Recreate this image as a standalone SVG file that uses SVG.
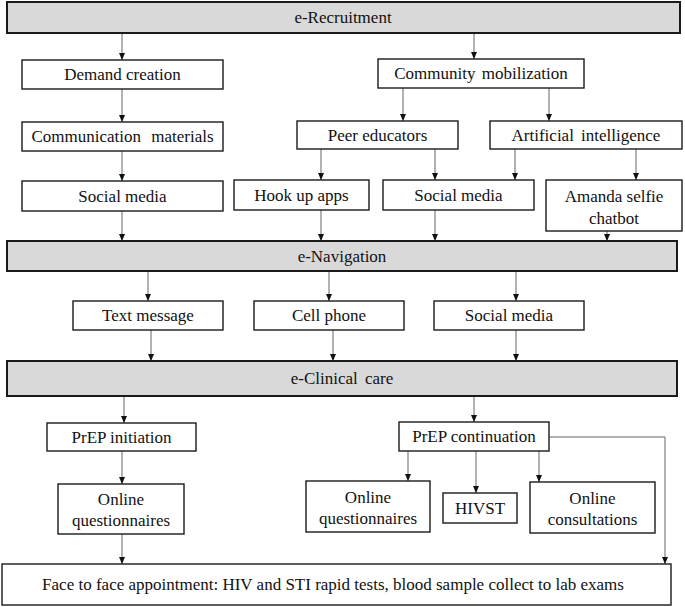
<svg xmlns="http://www.w3.org/2000/svg" width="685" height="607" viewBox="0 0 685 607">
<style>
.bar{fill:#d9d9d9;stroke:#1a1a1a;stroke-width:2}
.box{fill:#fff;stroke:#1a1a1a;stroke-width:1.4}
text{font-family:'Liberation Serif',serif;font-size:17px;fill:#111;text-anchor:middle}
.c{fill:none;stroke:#666;stroke-width:1;marker-end:url(#ah)}
</style>
<defs>
<marker id="ah" markerUnits="userSpaceOnUse" markerWidth="7" markerHeight="7" refX="7" refY="3" orient="auto">
<path d="M0,0 L7,3 L0,6 z" fill="#111"/>
</marker>
</defs>
<rect width="685" height="607" fill="#fff"/>
<g id="connectors">
<line class="c" x1="122" y1="33" x2="122" y2="60"/>
<line class="c" x1="474" y1="33" x2="474" y2="59"/>
<line class="c" x1="122" y1="89" x2="122" y2="122"/>
<line class="c" x1="403" y1="88" x2="403" y2="121"/>
<line class="c" x1="549" y1="88" x2="549" y2="121"/>
<line class="c" x1="122" y1="151" x2="122" y2="181"/>
<line class="c" x1="321" y1="149" x2="321" y2="180"/>
<line class="c" x1="435" y1="149" x2="435" y2="180"/>
<line class="c" x1="515" y1="149" x2="515" y2="180"/>
<line class="c" x1="636" y1="149" x2="636" y2="180"/>
<line class="c" x1="122" y1="211" x2="122" y2="241"/>
<line class="c" x1="321" y1="210" x2="321" y2="241"/>
<line class="c" x1="435" y1="210" x2="435" y2="241"/>
<line class="c" x1="607" y1="231" x2="607" y2="241"/>
<line class="c" x1="148" y1="271" x2="148" y2="301"/>
<line class="c" x1="329" y1="271" x2="329" y2="301"/>
<line class="c" x1="516" y1="271" x2="516" y2="301"/>
<line class="c" x1="151" y1="330" x2="151" y2="361"/>
<line class="c" x1="333" y1="330" x2="333" y2="361"/>
<line class="c" x1="516" y1="330" x2="516" y2="361"/>
<line class="c" x1="124" y1="396" x2="124" y2="423"/>
<line class="c" x1="474" y1="396" x2="474" y2="422"/>
<line class="c" x1="122" y1="451" x2="122" y2="484"/>
<line class="c" x1="408" y1="451" x2="408" y2="481"/>
<line class="c" x1="476" y1="451" x2="476" y2="493"/>
<line class="c" x1="539" y1="451" x2="539" y2="482"/>
<line class="c" x1="122" y1="534" x2="122" y2="564"/>
<polyline class="c" points="549,437 665,437 665,564"/>
</g>
<g id="e-recruitment"><rect class="bar" x="7" y="2" width="673" height="31"/><text x="343" y="23">e-Recruitment</text></g>
<g id="demand-creation"><rect class="box" x="22" y="60" width="201" height="29"/><text x="122.5" y="80">Demand creation</text></g>
<g id="community-mobilization"><rect class="box" x="378" y="59" width="206" height="29"/><text x="481" y="79" word-spacing="2">Community mobilization</text></g>
<g id="communication-materials"><rect class="box" x="22" y="122" width="201" height="29"/><text x="122.5" y="142" word-spacing="6">Communication materials</text></g>
<g id="peer-educators"><rect class="box" x="297" y="121" width="161" height="28"/><text x="377.5" y="141">Peer educators</text></g>
<g id="artificial-intelligence"><rect class="box" x="490" y="121" width="192" height="28"/><text x="586" y="141" word-spacing="3">Artificial intelligence</text></g>
<g id="social-media-1"><rect class="box" x="22" y="181" width="201" height="30"/><text x="122.5" y="202">Social media</text></g>
<g id="hook-up-apps"><rect class="box" x="234" y="180" width="135" height="30"/><text x="301.5" y="201">Hook up apps</text></g>
<g id="social-media-2"><rect class="box" x="383" y="180" width="151" height="30"/><text x="458.5" y="201">Social media</text></g>
<g id="amanda"><rect class="box" x="546" y="180" width="136" height="51"/><text x="614" y="202">Amanda selfie</text><text x="614" y="224">chatbot</text></g>
<g id="e-navigation"><rect class="bar" x="7" y="241" width="670" height="30"/><text x="342" y="262">e-Navigation</text></g>
<g id="text-message"><rect class="box" x="73" y="301" width="150" height="29"/><text x="148" y="321">Text message</text></g>
<g id="cell-phone"><rect class="box" x="254" y="301" width="150" height="29"/><text x="329" y="321">Cell phone</text></g>
<g id="social-media-3"><rect class="box" x="434" y="301" width="150" height="29"/><text x="509" y="321">Social media</text></g>
<g id="e-clinical-care"><rect class="bar" x="7" y="361" width="670" height="35"/><text x="342" y="384" word-spacing="3">e-Clinical care</text></g>
<g id="prep-initiation"><rect class="box" x="47" y="423" width="149" height="28"/><text x="121.5" y="443">PrEP initiation</text></g>
<g id="prep-continuation"><rect class="box" x="399" y="422" width="150" height="29"/><text x="474" y="442">PrEP continuation</text></g>
<g id="online-questionnaires-1"><rect class="box" x="58" y="484" width="126" height="50"/><text x="121" y="505">Online</text><text x="121" y="526">questionnaires</text></g>
<g id="online-questionnaires-2"><rect class="box" x="306" y="481" width="124" height="51"/><text x="368" y="503">Online</text><text x="368" y="524">questionnaires</text></g>
<g id="hivst"><rect class="box" x="443" y="493" width="74" height="30"/><text x="480" y="514">HIVST</text></g>
<g id="online-consultations"><rect class="box" x="530" y="482" width="125" height="51"/><text x="592.5" y="504">Online</text><text x="592.5" y="525">consultations</text></g>
<g id="face-to-face"><rect class="box" x="2" y="564" width="669" height="41" stroke-width="2"/><text x="333" y="590">Face to face appointment:  HIV and STI rapid tests,  blood sample collect to lab exams</text></g>
</svg>
